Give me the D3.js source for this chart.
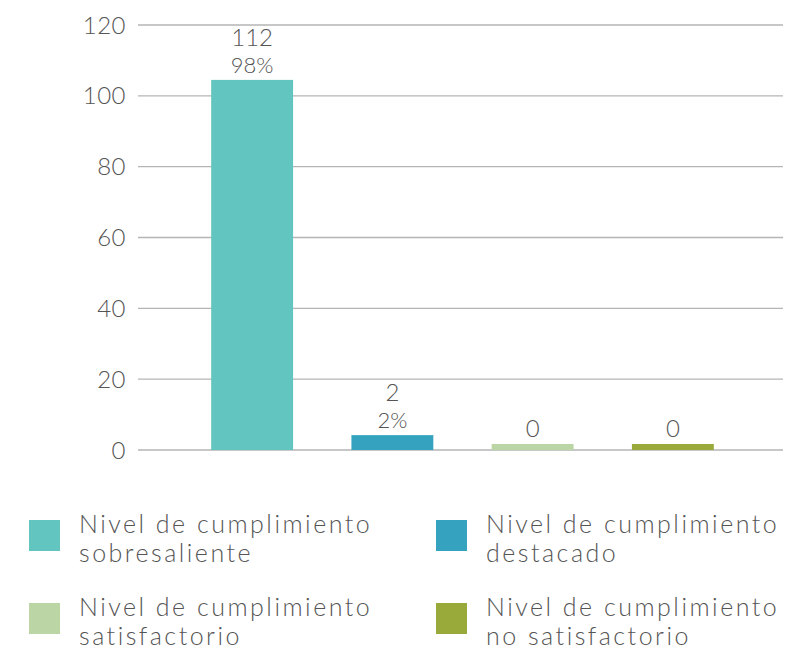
<!DOCTYPE html>
<html>
<head>
<meta charset="utf-8">
<script src="https://cdn.jsdelivr.net/npm/d3@7"></script>
<style>
  body { margin: 0; background: #fff; }
  text { font-family: Lato, "Open Sans", sans-serif; font-weight: 300; fill: #555; }
</style>
</head>
<body>
<div id="result"></div>
<script>
// categories and values
const categories = ['sobresaliente', 'destacado', 'satisfactorio', 'no satisfactorio'];
const counts = [112, 2, 0, 0];
const percents = ['98%', '2%', '', ''];
// bar heights as drawn against the axis in the reference
const barValues = [104.5, 4.2, 1.7, 1.7];
const colors = ['#62c5bf', '#35a3c0', '#bbd5a5', '#9aaa3a'];
const yTicks = [0, 20, 40, 60, 80, 100, 120];
const legendLines = [
  ['Nivel de cumplimiento', 'sobresaliente'],
  ['Nivel de cumplimiento', 'destacado'],
  ['Nivel de cumplimiento', 'satisfactorio'],
  ['Nivel de cumplimiento', 'no satisfactorio']
];

const width = 796, height = 651;
const svg = d3.select('#result').append('svg')
  .attr('width', width)
  .attr('height', height);

const y = d3.scaleLinear().domain([0, 120]).range([450, 25]);
const x = d3.scaleBand().domain(categories)
  .range([182, 743])
  .paddingInner(0.416)
  .paddingOuter(0.208);

// grid
svg.append('g').selectAll('line')
  .data(yTicks)
  .enter().append('line')
  .attr('x1', 138).attr('x2', 783)
  .attr('y1', function(d) { return y(d); })
  .attr('y2', function(d) { return y(d); })
  .attr('stroke', '#b5b5b5')
  .attr('stroke-width', 1.3);

svg.append('g').selectAll('text')
  .data(yTicks)
  .enter().append('text')
  .attr('x', 126)
  .attr('y', function(d) { return y(d); })
  .attr('dy', '0.36em')
  .attr('text-anchor', 'end')
  .style('font-size', '24px')
  .style('letter-spacing', '0.5px')
  .text(function(d) { return d; });

// bars
svg.append('g').selectAll('rect')
  .data(categories)
  .enter().append('rect')
  .attr('x', function(d) { return x(d); })
  .attr('width', x.bandwidth())
  .attr('y', function(d, i) { return y(barValues[i]); })
  .attr('height', function(d, i) { return y(0) - y(barValues[i]); })
  .attr('fill', function(d, i) { return colors[i]; });

// value labels
var labels = svg.append('g').selectAll('g')
  .data(categories)
  .enter().append('g')
  .attr('transform', function(d, i) {
    return `translate(${x(d) + x.bandwidth() / 2},${y(barValues[i]) - 7})`;
  });

labels.append('text')
  .attr('text-anchor', 'middle')
  .attr('y', function(d, i) { return percents[i] ? -27 : 0; })
  .style('font-size', '24px')
  .text(function(d, i) { return counts[i]; });

labels.append('text')
  .attr('text-anchor', 'middle')
  .style('font-size', '22px')
  .text(function(d, i) { return percents[i]; });

// legend
var legend = svg.append('g').selectAll('g')
  .data(categories)
  .enter().append('g')
  .attr('transform', function(d, i) {
    return `translate(${i % 2 ? 436 : 29},${i < 2 ? 520 : 603})`;
  });

legend.append('rect')
  .attr('width', 31)
  .attr('height', 31)
  .attr('fill', function(d, i) { return colors[i]; });

legend.append('text')
  .attr('x', 50)
  .attr('y', 13)
  .style('font-size', '25px')
  .style('letter-spacing', '2.5px')
  .selectAll('tspan')
  .data(function(d, i) { return legendLines[i]; })
  .enter().append('tspan')
  .attr('x', 50)
  .attr('dy', function(d, j) { return j ? 29 : 0; })
  .text(function(d) { return d; });
</script>
</body>
</html>
